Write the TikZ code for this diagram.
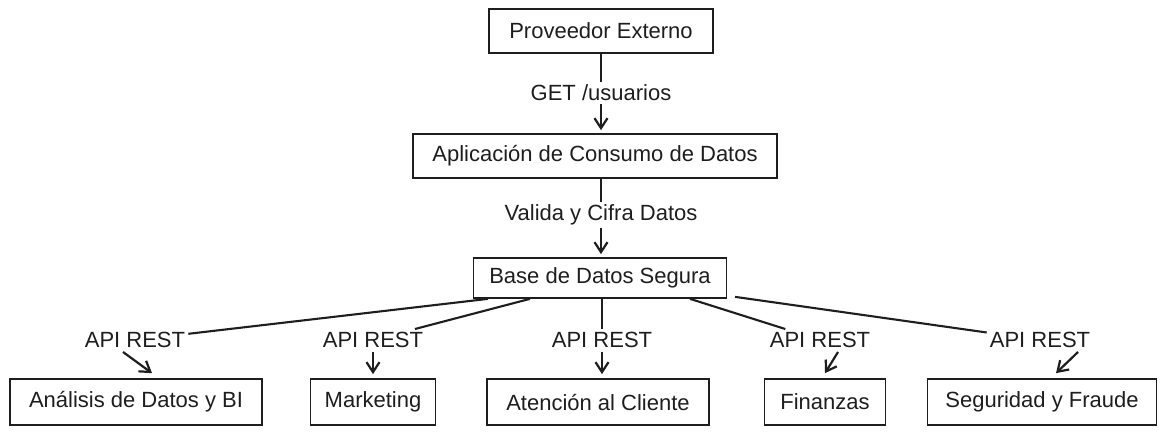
\documentclass[tikz,border=0pt]{standalone}
\usepackage{fontspec}
\setmainfont{Liberation Sans}
\usetikzlibrary{arrows.meta,positioning,calc}
\definecolor{ink}{RGB}{30,30,30}

\begin{document}
\begin{tikzpicture}[x=1pt, y=-1pt,
    box/.style={draw=ink, line width=1.7pt, minimum height=44pt, inner sep=0pt,
                font=\fontsize{22}{26}\selectfont, text=ink},
    lbl/.style={inner sep=3pt, font=\fontsize{22}{26}\selectfont, text=ink},
    conn/.style={draw=ink, line width=2.1pt},
    arr/.style={-{Straight Barb[length=10pt, width=13pt, line width=2.2pt]}, line width=2.2pt, draw=ink}
]
\useasboundingbox (0,0) rectangle (1166,434);

\node[box, minimum width=224pt] (prov) at (601, 31) {Proveedor Externo};
\node[box, minimum width=364pt] (app) at (595, 156) {Aplicación de Consumo de Datos};
\node[box, minimum width=253pt, minimum height=40pt] (base) at (600, 278) {Base de Datos Segura};

\node[box, minimum width=252pt, minimum height=46pt] (ana) at (136, 402) {Análisis de Datos y BI};
\node[box, minimum width=125pt, minimum height=46pt] (mkt) at (373, 402) {Marketing};
\node[box, minimum width=222pt, minimum height=46pt] (ate) at (598, 402) {Atención al Cliente};
\node[box, minimum width=121pt, minimum height=46pt] (fin) at (825, 402) {Finanzas};
\node[box, minimum width=229pt, minimum height=46pt] (seg) at (1042, 402) {Seguridad y Fraude};

\node[lbl] (get) at (601, 93) {GET /usuarios};
\node[lbl] (val) at (601, 215) {Valida y Cifra Datos};

\node[lbl] (api1) at (135, 340) {API REST};
\node[lbl] (api2) at (373, 340) {API REST};
\node[lbl] (api3) at (602, 340) {API REST};
\node[lbl] (api4) at (820, 340) {API REST};
\node[lbl] (api5) at (1040, 340) {API REST};

\draw[conn] (prov) -- (get);
\draw[arr] (get) -- ($(app.north -| get)+(0,-3)$);
\draw[conn] (app.south -| get) -- (val);
\draw[arr] (val) -- ($(base.north -| val)+(0,-3)$);

\draw[conn] ($(base.south)+(-112,0)$) -- (api1);
\draw[arr] ($(api1.south)+(-12,1)$) -- ($(ana.north)+(16,-5)$);
\draw[conn] ($(base.south)+(-70,0)$) -- (api2);
\draw[arr] ($(api2.south)+(0,1)$) -- ($(mkt.north -| api2)+(0,-4)$);
\draw[conn] (base.south -| api3) -- (api3);
\draw[arr] ($(api3.south)+(0,1)$) -- ($(ate.north -| api3)+(0,-4)$);
\draw[conn] ($(base.south)+(90,0)$) -- (api4);
\draw[arr] ($(api4.south)+(18,1)$) -- ($(fin.north)+(0,-5)$);
\draw[conn] ($(base.south)+(135,-2)$) -- (api5);
\draw[arr] ($(api5.south)+(38,1)$) -- ($(seg.north)+(14,-5)$);
\end{tikzpicture}
\end{document}
